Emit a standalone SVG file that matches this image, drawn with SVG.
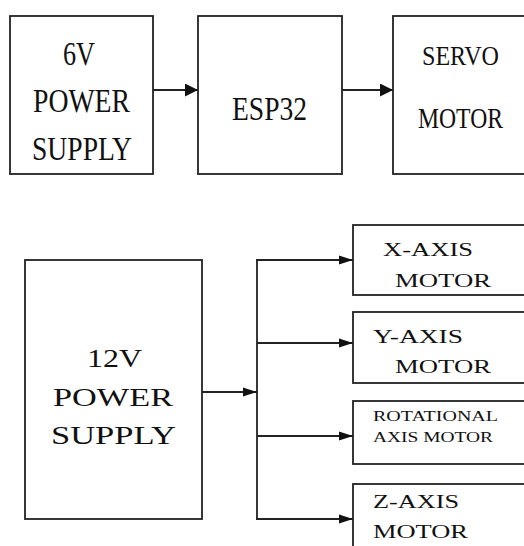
<svg xmlns="http://www.w3.org/2000/svg" width="524" height="546" viewBox="0 0 524 546">
<style>
.box{fill:#fff;stroke:#222;stroke-width:1.8}
.ln{fill:none;stroke:#222;stroke-width:1.8}
text{font-family:"Liberation Serif","Times New Roman",serif;fill:#111}
</style>
<defs>
<marker id="ahL" markerUnits="userSpaceOnUse" markerWidth="13" markerHeight="13" refX="12" refY="6" orient="auto" viewBox="0 0 12 12"><path d="M0,0 L12,6 L0,12 Z" fill="#111"/></marker>
<marker id="ahS" markerUnits="userSpaceOnUse" markerWidth="14" markerHeight="10" refX="14" refY="4.5" orient="auto" viewBox="0 0 14 9"><path d="M0,0 L14,4.5 L0,9 Z" fill="#111"/></marker>
</defs>
<rect width="524" height="546" fill="#fff"/>
<g id="connectors">
<line class="ln" x1="153" y1="90" x2="198" y2="90" marker-end="url(#ahL)"/>
<line class="ln" x1="342" y1="90" x2="393" y2="90" marker-end="url(#ahL)"/>
<line class="ln" x1="202" y1="392" x2="257" y2="392" marker-end="url(#ahS)"/>
<line class="ln" x1="257" y1="260" x2="257" y2="519"/>
<line class="ln" x1="256" y1="260" x2="353" y2="260" marker-end="url(#ahS)"/>
<line class="ln" x1="257" y1="343" x2="353" y2="343" marker-end="url(#ahS)"/>
<line class="ln" x1="257" y1="436" x2="353" y2="436" marker-end="url(#ahS)"/>
<line class="ln" x1="256" y1="519" x2="353" y2="519" marker-end="url(#ahS)"/>
</g>
<g id="psu6v">
<rect class="box" x="10" y="16" width="143" height="158"/>
<text x="63" y="65" font-size="33" textLength="32" lengthAdjust="spacingAndGlyphs">6V</text>
<text x="33" y="112" font-size="34" textLength="97" lengthAdjust="spacingAndGlyphs">POWER</text>
<text x="32" y="160" font-size="34" textLength="100" lengthAdjust="spacingAndGlyphs">SUPPLY</text>
</g>
<g id="esp32">
<rect class="box" x="198" y="16" width="144" height="158"/>
<text x="232" y="120" font-size="33" textLength="75" lengthAdjust="spacingAndGlyphs">ESP32</text>
</g>
<g id="servo">
<rect class="box" x="393" y="16" width="140" height="158"/>
<text x="422" y="65" font-size="28" textLength="77" lengthAdjust="spacingAndGlyphs">SERVO</text>
<text x="418" y="128" font-size="30" textLength="85" lengthAdjust="spacingAndGlyphs">MOTOR</text>
</g>
<g id="psu12v">
<rect class="box" x="25" y="260" width="177" height="259"/>
<text x="87" y="367" font-size="26" textLength="55" lengthAdjust="spacingAndGlyphs">12V</text>
<text x="53" y="406" font-size="26" textLength="120" lengthAdjust="spacingAndGlyphs">POWER</text>
<text x="51" y="444" font-size="26" textLength="125" lengthAdjust="spacingAndGlyphs">SUPPLY</text>
</g>
<g id="xmotor">
<rect class="box" x="353" y="225" width="180" height="70"/>
<text x="383" y="256" font-size="19" textLength="90" lengthAdjust="spacingAndGlyphs">X-AXIS</text>
<text x="395" y="287" font-size="19" textLength="96" lengthAdjust="spacingAndGlyphs">MOTOR</text>
</g>
<g id="ymotor">
<rect class="box" x="353" y="312" width="180" height="71"/>
<text x="373" y="343" font-size="19" textLength="90" lengthAdjust="spacingAndGlyphs">Y-AXIS</text>
<text x="395" y="373" font-size="19" textLength="96" lengthAdjust="spacingAndGlyphs">MOTOR</text>
</g>
<g id="rotmotor">
<rect class="box" x="353" y="401" width="180" height="63"/>
<text x="373" y="421" font-size="15" textLength="125" lengthAdjust="spacingAndGlyphs">ROTATIONAL</text>
<text x="373" y="442" font-size="15" textLength="120" lengthAdjust="spacingAndGlyphs">AXIS MOTOR</text>
</g>
<g id="zmotor">
<rect class="box" x="353" y="484" width="180" height="80"/>
<text x="373" y="508" font-size="19" textLength="86" lengthAdjust="spacingAndGlyphs">Z-AXIS</text>
<text x="373" y="538" font-size="19" textLength="95" lengthAdjust="spacingAndGlyphs">MOTOR</text>
</g>
</svg>
